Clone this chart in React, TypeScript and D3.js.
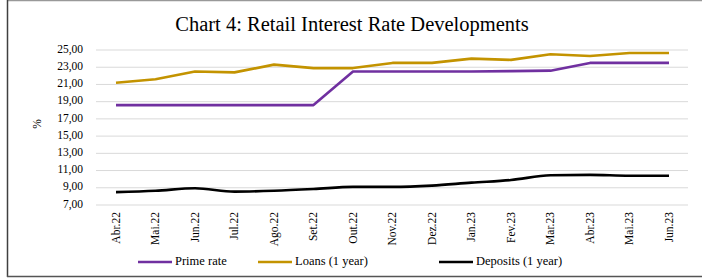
import React from "react";
import * as d3 from "d3";

const categories = ["Abr.22","Mai.22","Jun.22","Jul.22","Ago.22","Set.22","Out.22","Nov.22","Dez.22","Jan.23","Fev.23","Mar.23","Abr.23","Mai.23","Jun.23"];
const primeRate = [18.6,18.6,18.6,18.6,18.6,18.6,22.5,22.5,22.5,22.5,22.55,22.6,23.5,23.5,23.5];
const loans = [21.2,21.6,22.5,22.4,23.3,22.9,22.9,23.5,23.5,24.0,23.85,24.5,24.3,24.65,24.65];
const deposits = [8.5,8.65,8.95,8.55,8.65,8.85,9.1,9.1,9.25,9.6,9.9,10.45,10.5,10.4,10.4];
const yTicks = [7,9,11,13,15,17,19,21,23,25];
const seriesNames = ["Prime rate","Loans (1 year)","Deposits (1 year)"];

const W = 702, H = 279;
const FONT = "'Liberation Serif', 'Times New Roman', serif";

export default function App() {
  const x = d3.scalePoint<string>().domain(categories).range([116, 669]);
  const y = d3.scaleLinear().domain([7, 25]).range([205, 50]);
  const lineStraight = d3.line<number>().x((_, i) => x(categories[i])!).y(d => y(d));
  const lineSmooth = d3.line<number>().x((_, i) => x(categories[i])!).y(d => y(d)).curve(d3.curveMonotoneX);
  const fmt = (v: number) => v.toFixed(2).replace(".", ",");
  const series = [
    { name: seriesNames[0], data: primeRate, color: "#7030A0", smooth: false, lx: 138 },
    { name: seriesNames[1], data: loans, color: "#C39300", smooth: false, lx: 258 },
    { name: seriesNames[2], data: deposits, color: "#000000", smooth: true, lx: 439 },
  ];
  return (
    <svg width={W} height={H} style={{ position: "absolute", left: 0, top: 0, background: "#fff" }} fontFamily={FONT}>
      <line x1={7} x2={W} y1={0.5} y2={0.5} stroke="#999" strokeWidth={1.5} />
      <line x1={7.5} x2={7.5} y1={0} y2={277} stroke="#404040" strokeWidth={1.5} />
      <line x1={7} x2={W} y1={276.5} y2={276.5} stroke="#555" strokeWidth={1.5} />
      <text x={352} y={26} textAnchor="middle" dominantBaseline="middle" fontSize={20.5} fill="#000">Chart 4: Retail Interest Rate Developments</text>
      {yTicks.map(t => (
        <g key={t}>
          <line x1={96} x2={688} y1={y(t)} y2={y(t)} stroke="#d9d9d9" strokeWidth={1} />
          <text x={83} y={y(t)} textAnchor="end" dominantBaseline="middle" fontSize={11.5} fill="#000">{fmt(t)}</text>
        </g>
      ))}
      <text transform={`translate(38,124) rotate(-90)`} textAnchor="middle" dominantBaseline="middle" fontSize={11.5}>%</text>
      {categories.map(c => (
        <text key={c} transform={`translate(${x(c)! + 1},212) rotate(-90)`} textAnchor="end" dominantBaseline="middle" fontSize={11.5}>{c}</text>
      ))}
      {series.map(s => (
        <path key={s.name} d={(s.smooth ? lineSmooth : lineStraight)(s.data)!} fill="none" stroke={s.color} strokeWidth={2.6} strokeLinejoin="round" />
      ))}
      {series.map(s => (
        <g key={s.name + "-leg"}>
          <line x1={s.lx} x2={s.lx + 34} y1={262} y2={262} stroke={s.color} strokeWidth={2.6} />
          <text x={s.lx + 37} y={262} dominantBaseline="middle" fontSize={12.5}>{s.name}</text>
        </g>
      ))}
    </svg>
  );
}
